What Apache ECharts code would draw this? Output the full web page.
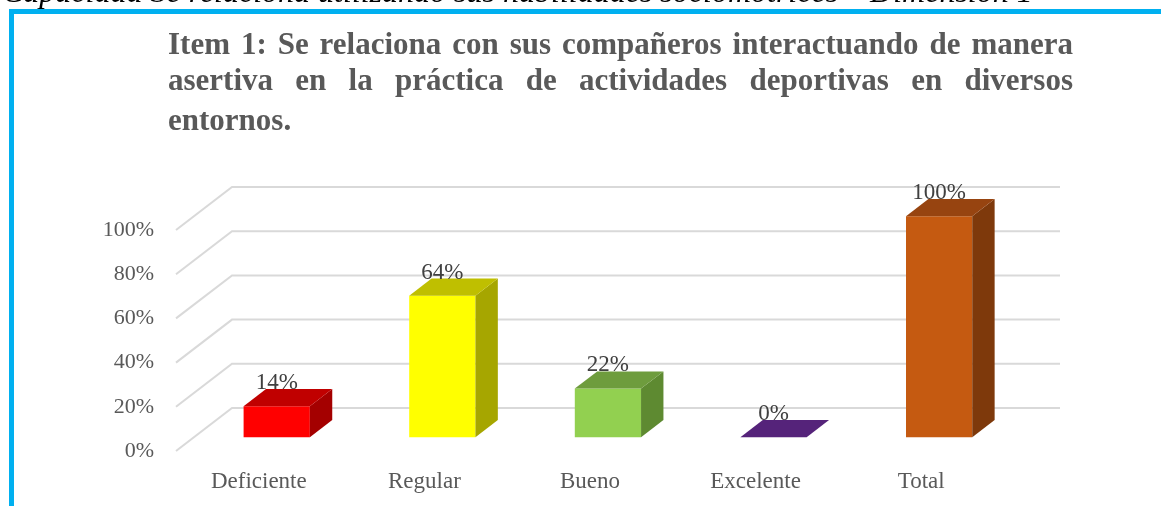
<!DOCTYPE html>
<html>
<head>
<meta charset="utf-8">
<script src="https://cdn.jsdelivr.net/npm/echarts@6/dist/echarts.min.js"></script>
<style>
  html, body { margin: 0; padding: 0; background: #fff; }
  #chart { width: 1161px; height: 506px; }
</style>
</head>
<body>
<div id="chart"></div>
<script>
const categories = ['Deficiente', 'Regular', 'Bueno', 'Excelente', 'Total'];
const values = [14, 64, 22, 0, 100];
const yTicks = [0, 20, 40, 60, 80, 100];

const titleLines = [
  'Item 1: Se relaciona con sus compañeros interactuando de manera',
  'asertiva en la práctica de actividades deportivas en diversos',
  'entornos.'
];
const captionText = 'Capacidad Se relaciona utilizando sus habilidades sociomotrices – Dimensión 1';

// colours for each bar: front, top, side
const faceColors = [
  ['#FF0000', '#C00000', '#A40000'],
  ['#FFFF00', '#BFBF00', '#A6A600'],
  ['#92D050', '#6E9C3D', '#5E8A31'],
  ['#7030A0', '#55237A', '#46196A'],
  ['#C55A11', '#974410', '#7E390B']
];

// perspective of the floor (depth of whole plot) and bar placement in it
const DX = 56, DY = -43;
const BAR_FRONT = 0.32, BAR_DEPTH = 0.40, BAR_W = 0.40;

const SERIF = '"Liberation Serif", "Times New Roman", serif';
const GRAY = '#595959';

// measure words to build a justified paragraph like the Word original
const measureCtx = document.createElement('canvas').getContext('2d');
function justified(text, y, left, right, font, stretch) {
  const words = text.split(' ');
  measureCtx.font = font;
  const widths = words.map(w => measureCtx.measureText(w).width);
  const total = widths.reduce((a, b) => a + b, 0);
  const spaceW = measureCtx.measureText(' ').width;
  const gap = stretch && words.length > 1 ? (right - left - total) / (words.length - 1) : spaceW;
  let x = left;
  return words.map((w, i) => {
    const el = {
      type: 'text', silent: true,
      style: { x: x, y: y, text: w, font: font, fill: GRAY, textVerticalAlign: 'middle' }
    };
    x += widths[i] + gap;
    return el;
  });
}

const titleFont = 'bold 31px ' + SERIF;
const graphics = [].concat(
  justified(titleLines[0], 46, 168, 1073, titleFont, true),
  justified(titleLines[1], 82, 168, 1073, titleFont, true),
  justified(titleLines[2], 122, 168, 1073, titleFont, false)
);

graphics.push({
  type: 'text', silent: true,
  style: { x: 2, y: -6, text: captionText, font: 'italic 32px ' + SERIF, fill: '#000', textVerticalAlign: 'middle' }
});
graphics.push({
  type: 'polyline', silent: true,
  shape: { points: [[11.5, 520], [11.5, 11.5], [1170, 11.5]] },
  style: { stroke: '#00B0F0', lineWidth: 5, fill: null }
});

const chart = echarts.init(document.getElementById('chart'), null, { renderer: 'canvas' });

const option = {
  backgroundColor: '#fff',
  animation: false,
  graphic: graphics,
  grid: { left: 176, right: 157, top: 230, bottom: 55 },
  xAxis: {
    type: 'category',
    data: categories,
    axisLine: { show: false },
    axisTick: { show: false },
    axisLabel: { color: GRAY, fontFamily: SERIF, fontSize: 23, margin: 19 }
  },
  yAxis: {
    type: 'value',
    min: 0, max: 100, interval: 20,
    axisLine: { show: false },
    axisTick: { show: false },
    splitLine: { show: false },
    axisLabel: { color: GRAY, fontFamily: SERIF, fontSize: 22, margin: 22, formatter: '{value}%' }
  },
  series: [
    {
      // 3D grid: diagonal on the side wall plus line on the back wall
      type: 'custom',
      silent: true,
      z: 1,
      data: yTicks.map(v => [0, v]),
      renderItem: function (params, api) {
        const cs = params.coordSys;
        const y = api.coord([0, api.value(1)])[1];
        return {
          type: 'polyline',
          shape: { points: [[cs.x, y], [cs.x + DX, y + DY], [cs.x + cs.width + DX, y + DY]] },
          style: { stroke: '#D9D9D9', lineWidth: 2, fill: null }
        };
      }
    },
    {
      type: 'custom',
      z: 2,
      data: values.map((v, i) => [i, v]),
      renderItem: function (params, api) {
        const i = api.value(0);
        const v = api.value(1);
        const base = api.coord([i, 0]);
        const top = api.coord([i, v]);
        const band = api.size([1, 0])[0];
        const w = band * BAR_W;
        const cx = base[0] + DX * BAR_FRONT;
        const yb = base[1] + DY * BAR_FRONT;
        const yt = top[1] + DY * BAR_FRONT;
        const xl = cx - w / 2, xr = cx + w / 2;
        const bx = DX * BAR_DEPTH, by = DY * BAR_DEPTH;
        const c = faceColors[i];
        const children = [];
        if (yb - yt > 0.5) {
          children.push({
            type: 'rect',
            shape: { x: xl, y: yt, width: w, height: yb - yt },
            style: { fill: c[0] }
          });
          children.push({
            type: 'polygon',
            shape: { points: [[xr, yt], [xr + bx, yt + by], [xr + bx, yb + by], [xr, yb]] },
            style: { fill: c[2] }
          });
        }
        children.push({
          type: 'polygon',
          shape: { points: [[xl, yt], [xr, yt], [xr + bx, yt + by], [xl + bx, yt + by]] },
          style: { fill: c[1] }
        });
        children.push({
          type: 'text',
          style: {
            x: cx, y: yt + by - 6, text: v + '%',
            font: '23px ' + SERIF, fill: '#404040',
            textAlign: 'center', textVerticalAlign: 'middle'
          }
        });
        return { type: 'group', children: children };
      }
    }
  ]
};

chart.setOption(option);
</script>
</body>
</html>
